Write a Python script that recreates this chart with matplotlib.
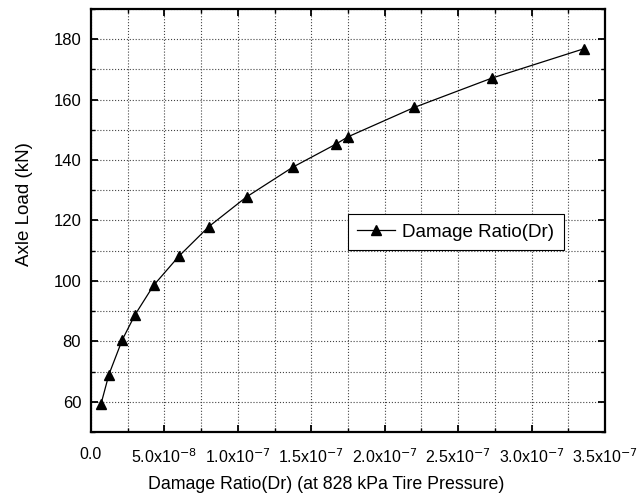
import matplotlib
matplotlib.use("Agg")
import matplotlib.pyplot as plt
from matplotlib.ticker import MultipleLocator, FuncFormatter

plt.rcParams["font.family"] = ["Liberation Sans", "DejaVu Sans"]
plt.rcParams["axes.unicode_minus"] = False

# damage ratio vs axle load at 828 kPa
damage_ratio = [6.8e-9, 1.22e-8, 2.13e-8, 3.0e-8, 4.26e-8, 5.99e-8, 8.03e-8,
                1.059e-7, 1.376e-7, 1.665e-7, 1.75e-7, 2.2e-7, 2.728e-7, 3.36e-7]
axle_load = [59.2, 69.0, 80.5, 88.8, 98.5, 108.2, 118.0,
             127.8, 137.7, 145.2, 147.7, 157.4, 167.1, 176.9]


def sci_fmt(v, pos):
    if abs(v) < 1e-20:
        return "0.0"
    exp = int(f"{v:e}".split("e")[1])
    mant = v / 10 ** exp
    return f"{mant:.1f}x10$^{{{exp}}}$"


fig = plt.figure(figsize=(6.42, 4.97), dpi=100)
ax = fig.add_axes([0.1417, 0.1308, 0.8007, 0.8511])

ax.plot(damage_ratio, axle_load, "-^", color="black", lw=0.9, ms=7.5,
        label="Damage Ratio(Dr)")

ax.set_xlim(0, 3.5e-7)
ax.set_ylim(50, 190)
ax.xaxis.set_major_locator(MultipleLocator(5e-8))
ax.xaxis.set_minor_locator(MultipleLocator(2.5e-8))
ax.yaxis.set_major_locator(MultipleLocator(20))
ax.yaxis.set_minor_locator(MultipleLocator(10))
ax.xaxis.set_major_formatter(FuncFormatter(sci_fmt))

ax.grid(which="both", ls=":", color="#444444", lw=0.8)
ax.set_axisbelow(True)
ax.tick_params(which="both", direction="in", top=True, right=True)
ax.tick_params(axis="y", labelsize=12, pad=7)
ax.tick_params(axis="x", labelsize=11.5, pad=11)
ax.tick_params(which="major", length=5, width=1.3)
ax.tick_params(which="minor", length=3, width=1)
for s in ax.spines.values():
    s.set_linewidth(1.6)

ax.set_xlabel("Damage Ratio(Dr) (at 828 kPa Tire Pressure)", fontsize=12.8)
ax.set_ylabel("Axle Load (kN)", fontsize=13.5)
# the original figure has both axis titles slightly off-centre
ax.xaxis.set_label_coords(0.457, -0.104)
ax.yaxis.set_label_coords(-0.113, 0.539)

leg = ax.legend(loc="upper left", bbox_to_anchor=(0.500, 0.515),
                fontsize=13.5, fancybox=False, edgecolor="black",
                framealpha=1, handlelength=2.0, handletextpad=0.4,
                borderpad=0.5, borderaxespad=0)
leg.get_frame().set_linewidth(0.8)

fig.savefig("out.png", dpi=100)
